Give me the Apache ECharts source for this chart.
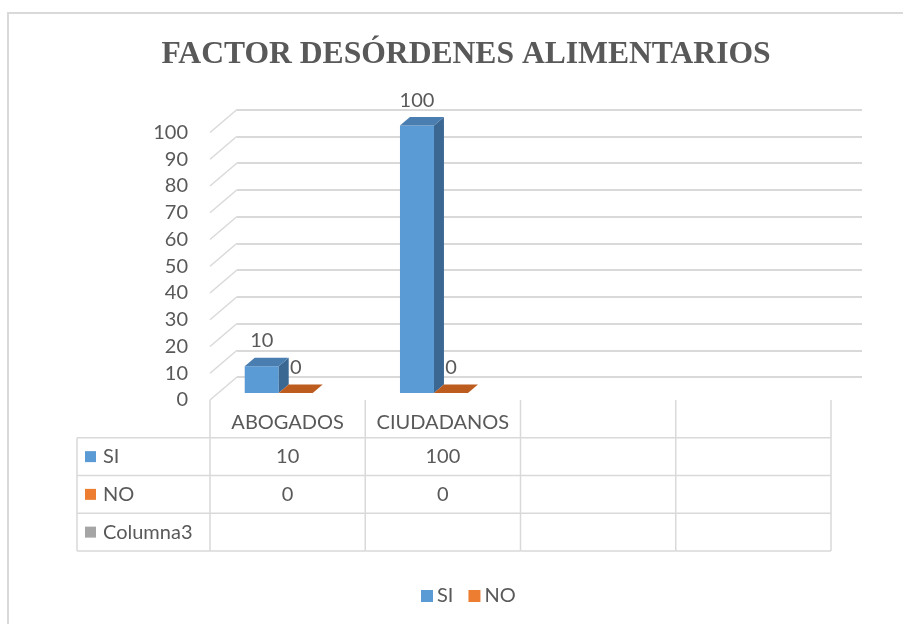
<!DOCTYPE html>
<html>
<head>
<meta charset="utf-8">
<script src="https://cdn.jsdelivr.net/npm/echarts@6/dist/echarts.min.js"></script>
<style>
  html, body { margin: 0; padding: 0; background: #fff; }
  #chart { width: 904px; height: 624px; }
</style>
</head>
<body>
<div id="chart"></div>
<script>
// datos del grafico
const categories = ['ABOGADOS', 'CIUDADANOS', '', ''];
const seriesNames = ['SI', 'NO', 'Columna3'];
const siValues = [10, 100, null, null];
const noValues = [0, 0, null, null];
const col3Values = [null, null, null, null];
const yTicks = [0, 10, 20, 30, 40, 50, 60, 70, 80, 90, 100];

const FONT = 'Lato';
const TXT = '#595959';
const LINE = '#D9D9D9';
// profundidad del 3D (de plano frontal a pared del fondo)
const DEPTH = [27, -23];
const ROW_H = 37.75;
const HEADER_W = 133;

const colors = {
  SI: { front: '#5B9BD5', side: '#3B6893', top: '#4A7DB0' },
  NO: { front: '#ED7D31', side: '#A9521C', top: '#BD5C1F' },
  Columna3: { front: '#A5A5A5', side: '#6E6E6E', top: '#8A8A8A' }
};

const myChart = echarts.init(document.getElementById('chart'));

// barra 3D: cara frontal, lateral y superior
function bar3d(slot, name) {
  return function (params, api) {
    const v = api.value(1);
    if (v == null || isNaN(v)) return null;
    const idx = api.value(0);
    const band = api.size([1, 0])[0];
    const bw = band * 0.219;
    const base = api.coord([idx, 0]);
    const topY = api.coord([idx, v])[1];
    const dx0 = DEPTH[0] * 0.30, dy0 = DEPTH[1] * 0.30;
    const ddx = DEPTH[0] * 0.37, ddy = DEPTH[1] * 0.37;
    const x0 = base[0] - 1.5 * bw + slot * bw + dx0;
    const x1 = x0 + bw;
    const yb = base[1] + dy0;
    const yt = topY + dy0;
    const c = colors[name];
    const children = [];
    if (yb - yt > 0.5) {
      children.push({
        type: 'rect',
        shape: { x: x0, y: yt, width: bw, height: yb - yt },
        style: { fill: c.front }
      });
      children.push({
        type: 'polygon',
        shape: { points: [[x1, yt], [x1 + ddx, yt + ddy], [x1 + ddx, yb + ddy], [x1, yb]] },
        style: { fill: c.side }
      });
    }
    children.push({
      type: 'polygon',
      shape: { points: [[x0, yt], [x1, yt], [x1 + ddx, yt + ddy], [x0 + ddx, yt + ddy]] },
      style: { fill: c.top }
    });
    children.push({
      type: 'text',
      style: {
        text: String(v),
        x: x0 + bw / 2,
        y: yt + ddy - 17,
        align: 'center',
        verticalAlign: 'middle',
        font: '20px ' + FONT,
        fill: TXT
      }
    });
    return { type: 'group', children: children };
  };
}

// tabla de datos bajo el grafico
function tableItem(params, api) {
  const idx = api.value(0);
  const band = api.size([1, 0])[0];
  const base = api.coord([idx, 0]);
  const left = base[0] - band / 2;
  const right = base[0] + band / 2;
  const y0 = base[1];
  const yEnd = y0 + ROW_H * 4;
  const ls = { stroke: LINE, lineWidth: 1.5 };
  const children = [];
  children.push({ type: 'line', shape: { x1: right, y1: y0, x2: right, y2: yEnd }, style: ls });
  for (let r = 1; r <= 4; r++) {
    const y = y0 + ROW_H * r;
    children.push({ type: 'line', shape: { x1: left, y1: y, x2: right, y2: y }, style: ls });
  }
  const vals = [api.value(2), api.value(3), api.value(4)];
  vals.forEach(function (v, r) {
    if (v == null || isNaN(v)) return;
    children.push({
      type: 'text',
      style: {
        text: String(v), x: base[0], y: y0 + ROW_H * (r + 1.5),
        align: 'center', verticalAlign: 'middle', font: '20px ' + FONT, fill: TXT
      }
    });
  });
  if (params.dataIndex === 0) {
    const hl = left - HEADER_W;
    children.push({ type: 'line', shape: { x1: left, y1: y0, x2: left, y2: yEnd }, style: ls });
    children.push({ type: 'line', shape: { x1: hl, y1: y0 + ROW_H, x2: hl, y2: yEnd }, style: ls });
    for (let r = 1; r <= 4; r++) {
      const y = y0 + ROW_H * r;
      children.push({ type: 'line', shape: { x1: hl, y1: y, x2: left, y2: y }, style: ls });
    }
    seriesNames.forEach(function (n, r) {
      const yc = y0 + ROW_H * (r + 1.5);
      children.push({
        type: 'rect', shape: { x: hl + 8, y: yc - 5.5, width: 11, height: 11 },
        style: { fill: colors[n].front }
      });
      children.push({
        type: 'text',
        style: {
          text: n, x: hl + 26, y: yc, align: 'left', verticalAlign: 'middle',
          font: '20px ' + FONT, fill: TXT
        }
      });
    });
  }
  return { type: 'group', children: children };
}

// lineas diagonales del lateral izquierdo
function sideLine(params, api) {
  const v = api.value(1);
  const band = api.size([1, 0])[0];
  const p = api.coord([0, v]);
  const x = p[0] - band / 2;
  return {
    type: 'line',
    shape: { x1: x, y1: p[1], x2: x + DEPTH[0], y2: p[1] + DEPTH[1] },
    style: { stroke: LINE, lineWidth: 1.5 }
  };
}

const option = {
  backgroundColor: '#fff',
  animation: false,
  title: {
    text: 'FACTOR DESÓRDENES ALIMENTARIOS',
    left: 461,
    textAlign: 'center',
    top: 34,
    textStyle: {
      fontFamily: 'Liberation Serif',
      fontWeight: 'bold',
      fontSize: 31.6,
      color: TXT
    }
  },
  legend: {
    data: ['SI', 'NO'],
    left: 416,
    top: 581,
    icon: 'rect',
    itemWidth: 12,
    itemHeight: 12,
    itemGap: 15,
    textStyle: { fontFamily: FONT, fontSize: 20, color: TXT, padding: [0, 0, 0, -1] }
  },
  graphic: [
    { type: 'line', shape: { x1: 7, y1: 13, x2: 903, y2: 13 }, style: { stroke: LINE, lineWidth: 2 } },
    { type: 'line', shape: { x1: 8, y1: 12, x2: 8, y2: 624 }, style: { stroke: LINE, lineWidth: 2 } }
  ],
  grid: [
    { left: 210, right: 73, top: 132.5, bottom: 224 },
    { left: 237, right: 42, top: 109.5, bottom: 247 }
  ],
  xAxis: [
    {
      type: 'category', gridIndex: 0, data: categories,
      axisLine: { show: false }, axisTick: { show: false },
      axisLabel: { margin: 13, fontFamily: FONT, fontSize: 20, color: TXT, interval: 0 }
    },
    { type: 'category', gridIndex: 1, data: categories, show: false }
  ],
  yAxis: [
    {
      type: 'value', gridIndex: 0, min: 0, max: 100, interval: 10,
      axisLine: { show: false }, axisTick: { show: false }, splitLine: { show: false },
      axisLabel: { margin: 22, fontFamily: FONT, fontSize: 20, color: TXT }
    },
    {
      type: 'value', gridIndex: 1, min: 0, max: 100, interval: 10,
      axisLine: { show: false }, axisTick: { show: false }, axisLabel: { show: false },
      splitLine: { lineStyle: { color: LINE, width: 2 } }
    }
  ],
  series: [
    {
      name: 'lados', type: 'custom', xAxisIndex: 0, yAxisIndex: 0,
      renderItem: sideLine, silent: true,
      data: yTicks.map(function (t) { return [0, t]; }),
      z: 1
    },
    {
      name: 'tabla', type: 'custom', xAxisIndex: 0, yAxisIndex: 0,
      renderItem: tableItem, silent: true,
      data: categories.map(function (c, i) { return [i, 0, siValues[i], noValues[i], col3Values[i]]; }),
      z: 1
    },
    {
      name: 'SI', type: 'custom', xAxisIndex: 0, yAxisIndex: 0,
      renderItem: bar3d(0, 'SI'),
      itemStyle: { color: colors.SI.front },
      data: categories.map(function (c, i) { return [i, siValues[i]]; }),
      z: 3
    },
    {
      name: 'NO', type: 'custom', xAxisIndex: 0, yAxisIndex: 0,
      renderItem: bar3d(1, 'NO'),
      itemStyle: { color: colors.NO.front },
      data: categories.map(function (c, i) { return [i, noValues[i]]; }),
      z: 4
    }
  ]
};

myChart.setOption(option);
</script>
</body>
</html>
